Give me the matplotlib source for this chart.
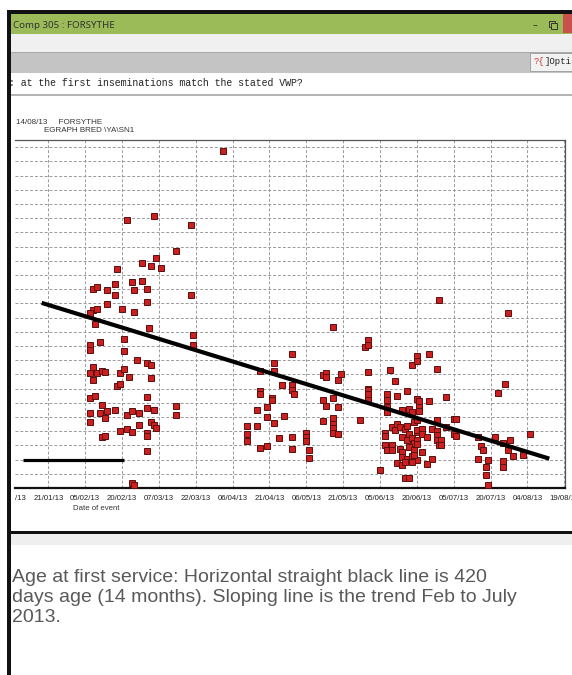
import numpy as np
import pandas as pd
import matplotlib
matplotlib.use('Agg')
import matplotlib.pyplot as plt
from matplotlib.patches import Rectangle

# first inseminations: day of year 2013 and age in days
day = [92, 53, 64, 79, 73, 65, 59, 63, 67, 49, 48, 55, 59, 39, 41, 45, 56, 61, 48, 79,
       45, 61, 39, 41, 51, 38, 56, 40, 62, 80, 80, 52, 42, 38, 38, 52, 57, 61, 63, 39,
       38, 41, 43, 44, 39, 50, 52, 54, 63, 49, 50, 38, 40, 61, 43, 73, 38, 42, 45, 48,
       44, 53, 55, 58, 61, 64, 73, 38, 58, 63, 64, 65, 50, 53, 55, 61, 61, 43, 44, 61,
       55, 56,
       102, 102, 102, 106, 106, 107, 107, 107, 107, 110, 110, 110, 112, 112, 113, 113,
       113, 115, 116, 117, 120, 120, 120, 121, 120, 120, 126, 126, 126, 127, 127, 133,
       134, 134, 133, 134, 133, 137, 137, 137, 137, 137, 137, 139, 140, 139, 139,
       148, 150, 151, 151, 151, 151, 151, 151, 151, 156, 159, 159, 159, 159, 160, 162,
       163, 167, 169, 171, 171, 176, 179, 171, 172, 176, 172, 172, 183, 165, 168, 169,
       161, 162, 158, 158, 163, 164, 166, 167, 170, 171, 168, 165, 167, 169, 170, 171,
       158, 159, 161, 161, 164, 165, 168, 170, 165, 167, 169, 171, 163, 165, 166, 169,
       166, 168, 171, 173, 173, 177, 179, 179, 183, 186, 187, 179, 186, 187, 175, 179,
       181, 180, 181, 171, 171, 173, 170, 177, 175, 180,
       196, 197, 198, 196, 200, 199, 199, 200, 203, 204, 207, 206, 208, 209, 206, 206,
       210, 214, 217, 208]
age = [1071, 925, 935, 916, 861, 845, 835, 829, 825, 823, 790, 795, 798, 781, 784, 778,
       779, 781, 767, 768, 748, 752, 736, 738, 738, 729, 731, 707, 697, 683, 663, 674,
       669, 663, 652, 650, 631, 625, 620, 615, 603, 603, 608, 604, 589, 602, 611, 595,
       593, 576, 579, 550, 555, 552, 536, 533, 519, 519, 522, 525, 508, 514, 522, 518,
       530, 524, 514, 499, 494, 500, 494, 487, 481, 484, 479, 476, 470, 467, 469, 438,
       371, 367,
       492, 475, 459, 525, 492, 608, 565, 559, 445, 531, 511, 449, 551, 545, 624, 607,
       498, 465, 577, 513, 642, 577, 566, 559, 467, 443, 476, 467, 460, 441, 424, 598,
       602, 594, 546, 533, 501, 701, 550, 508, 496, 486, 476, 475, 600, 589, 531,
       504, 658, 672, 662, 605, 570, 567, 558, 546, 399, 558, 545, 531, 521, 609, 585,
       554, 565, 619, 638, 628, 644, 611, 547, 543, 544, 531, 522, 553, 524, 526, 521,
       488, 482, 476, 469, 495, 489, 484, 491, 500, 503, 475, 468, 461, 465, 454, 478,
       450, 440, 450, 440, 443, 436, 447, 440, 426, 422, 427, 419, 412, 408, 415, 415,
       382, 382, 482, 484, 475, 484, 481, 471, 489, 506, 506, 503, 474, 469, 468, 462,
       462, 450, 450, 461, 452, 436, 429, 421, 410, 757,
       467, 448, 441, 421, 420, 404, 388, 367, 468, 560, 579, 456, 440, 461, 417, 404,
       427, 429, 475, 730]

trend_day = [18.3, 224.9]
trend_age = [751, 422]
target_day = [10.6, 52.0]
target_age = [420, 420]

caption = ["Age at first service: Horizontal straight black line is 420",
           "days age (14 months). Sloping line is the trend Feb to July",
           "2013."]


def to_date(d):
    return pd.Timestamp('2013-01-01') + pd.to_timedelta(np.asarray(d, dtype=float) - 1, unit='D')


W, H = 572, 675
fig = plt.figure(figsize=(W / 100, H / 100), dpi=100)


def box(x0, y0, x1, y1, color, edge='none', lw=0, z=0):
    fig.patches.append(Rectangle((x0 / W, 1 - y1 / H), (x1 - x0) / W, (y1 - y0) / H,
                                 transform=fig.transFigure, facecolor=color,
                                 edgecolor=edge, linewidth=lw, zorder=z))


def label(x, y, s, **kw):
    fig.text(x / W, 1 - y / H, s, **kw)


# window chrome
box(9, 13, W, 34, '#9bbb59')
box(9, 34, W, 52, '#f0f0f0')
box(9, 52, W, 53, '#a8a8a8')
box(9, 53, W, 73, '#c4c4c4')
box(530, 53, W, 71, '#f2f2f2', edge='#9a9a9a', lw=0.6)
box(563, 14, W, 33, '#c9504b')
box(9, 94.5, W, 95.5, '#b4b4b4')
box(9, 531, W, 534, '#111111')
box(9, 534, W, 545, '#efefef')
box(7, 10.5, W, 13.5, '#111111', z=3)
box(7, 10.5, 10.5, H, '#111111', z=3)
box(549, 21, 555, 27, 'none', edge='#333333', lw=0.7)
box(551, 23, 557, 29, '#9bbb59', edge='#333333', lw=0.7)

label(13, 25, "Comp 305 : FORSYTHE", family='Noto Sans', fontsize=7.0,
      color='#333333', va='center')
label(535, 25, "–", family='DejaVu Sans', fontsize=7, color='#333333',
      va='center', ha='center')
label(534, 62, "?{", family='Liberation Mono', fontsize=6.5, color='#c0392b', va='center')
label(545, 62, "]Opti", family='Liberation Mono', fontsize=6.5, color='#222222', va='center')
label(9, 83, ": at the first inseminations match the stated VWP?",
      family='Liberation Mono', fontsize=7.1, color='#222222', va='center')
label(16, 123, "14/08/13     FORSYTHE", family='Liberation Sans', fontsize=5.8,
      color='#333333', va='center')
label(44, 131, "EGRAPH BRED \\YA\\SN1", family='Liberation Sans', fontsize=5.8,
      color='#333333', va='center')
label(96, 509, "Date of event", family='Liberation Sans', fontsize=5.6,
      color='#333333', va='center', ha='center')
for i, line in enumerate(caption):
    label(12, 577 + i * 20.5, line, family='Liberation Sans', fontsize=14.0,
          color='#595959', va='center')

# chart
ax = fig.add_axes([15 / W, 1 - 488 / H, 550 / W, 348 / H])
ax.plot(to_date(day), age, 's', ms=4.6, mfc='#cc1f1f', mec='#5a1010', mew=0.7, zorder=3)
ax.plot(to_date(trend_day), trend_age, color='black', lw=3, solid_capstyle='butt', zorder=4)
ax.plot(to_date(target_day), target_age, color='black', lw=2.3, solid_capstyle='butt', zorder=4)

ticks = pd.date_range('2013-01-21', '2013-08-19', freq='15D')
ax.set_xticks(ticks)
ax.set_xticklabels([t.strftime('%d/%m/%y') for t in ticks], family='Liberation Sans',
                   fontsize=5.6, color='#222222')
ax.set_yticks(range(390, 1081, 30))
ax.set_yticklabels([])
ax.tick_params(length=0, pad=5)
ax.set_xlim(pd.Timestamp('2013-01-07 10:48'), pd.Timestamp('2013-08-19 07:00'))
ax.set_ylim(360, 1095)
ax.grid(True, color='#9a9a9a', ls=(0, (3, 2)), lw=0.7)
ax.set_axisbelow(True)
ax.spines['left'].set_visible(False)
for s in ['top', 'right']:
    ax.spines[s].set_color('#555555')
    ax.spines[s].set_linewidth(0.9)
ax.spines['bottom'].set_color('#111111')
ax.spines['bottom'].set_linewidth(1.6)
ax.text(0, -0.03, "/13", transform=ax.transAxes, family='Liberation Sans', fontsize=5.6,
        color='#222222', va='center', ha='left')

fig.savefig('out.png', dpi=100)
